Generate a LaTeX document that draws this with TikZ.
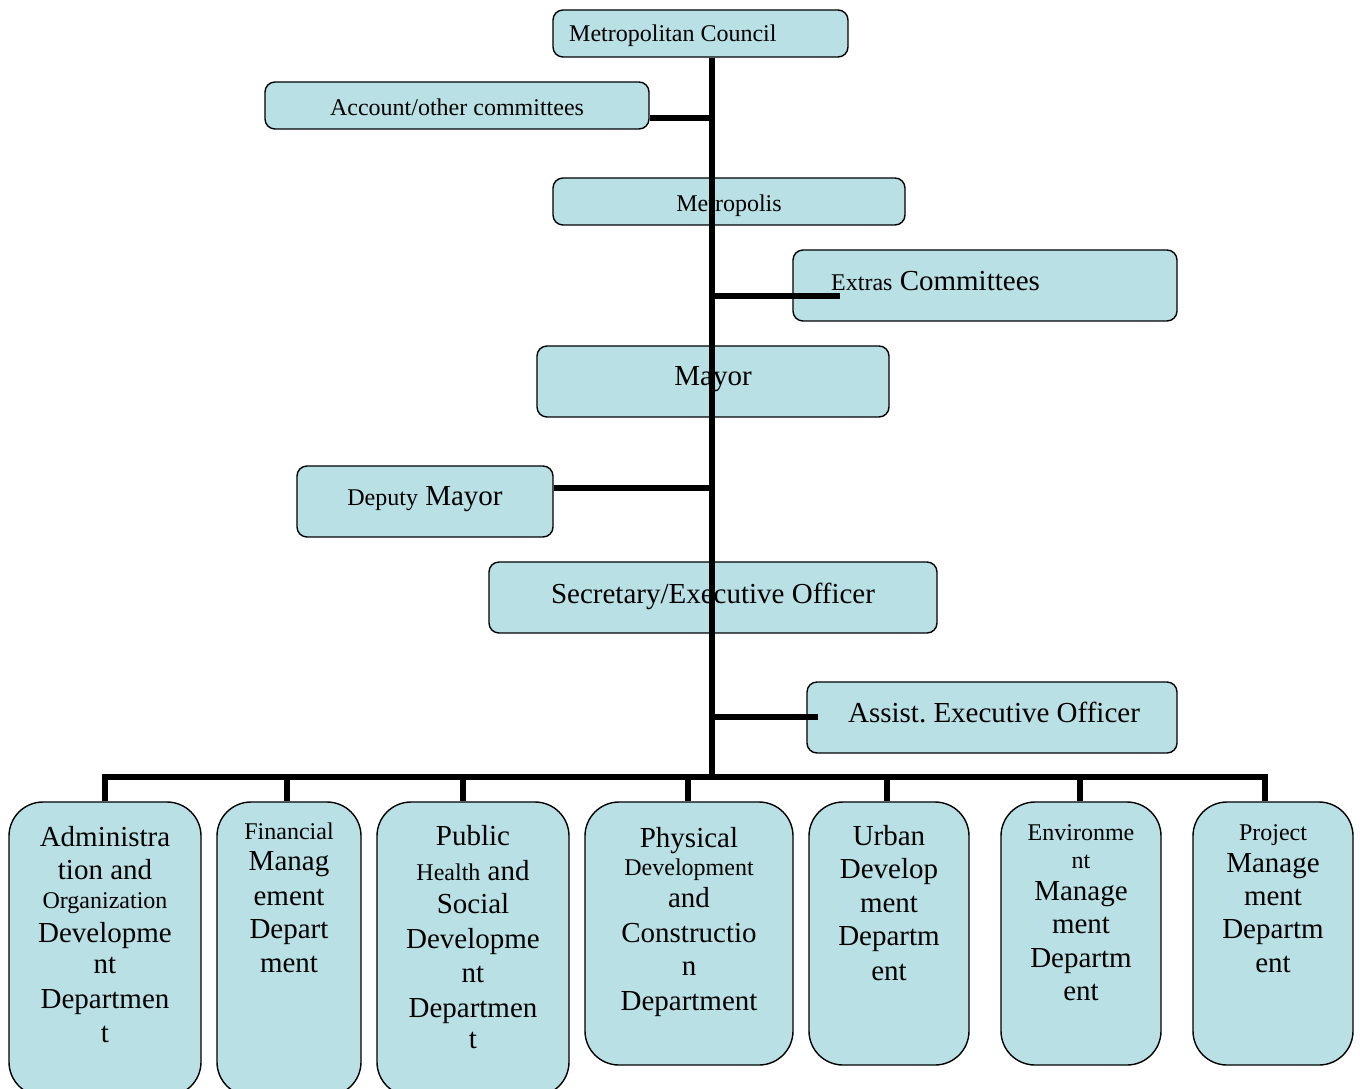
\documentclass[tikz,border=0pt]{standalone}
\usepackage{fontspec}
\setmainfont{Liberation Serif}
\definecolor{boxblue}{RGB}{185,224,228}
\newcommand\smf{\fontsize{24}{28}\selectfont}
\newcommand\lgf{\fontsize{29}{34}\selectfont}
\begin{document}
\frenchspacing
\begin{tikzpicture}[x=1pt,y=-1pt,
  box/.style={draw=black, line width=1.4pt, fill=boxblue, rounded corners=10pt, inner sep=0pt},
  dept/.style={box, rounded corners=34pt},
  conn/.style={line width=6.5pt, line cap=butt},
  txt/.style={anchor=base, inner sep=0pt, font=\lgf}]
\useasboundingbox (0,0) rectangle (1360,1088);
\clip (0,0) rectangle (1360,1088);

% upper boxes
\node[box, minimum width=295, minimum height=47] (council) at (700.5,33.5) {};
\node[box, minimum width=384, minimum height=47] (acct) at (457,105.5) {};
\node[box, minimum width=352, minimum height=47] (metro) at (729,201.5) {};
\node[box, minimum width=384, minimum height=71] (extras) at (985,285.5) {};
\node[box, minimum width=352, minimum height=71] (mayor) at (713,381.5) {};
\node[box, minimum width=256, minimum height=71] (deputy) at (425,501.5) {};
\node[box, minimum width=448, minimum height=71] (secr) at (713,597.5) {};
\node[box, minimum width=370, minimum height=71] (assist) at (992,717.5) {};

% department boxes
\node[dept, minimum width=192, minimum height=294] (admin) at (105,949) {};
\node[dept, minimum width=144, minimum height=294] (fin) at (289,949) {};
\node[dept, minimum width=192, minimum height=294] (pub) at (473,949) {};
\node[dept, minimum width=208, minimum height=263] (phys) at (689,933.5) {};
\node[dept, minimum width=160, minimum height=263] (urban) at (889,933.5) {};
\node[dept, minimum width=160, minimum height=263] (env) at (1081,933.5) {};
\node[dept, minimum width=160, minimum height=263] (proj) at (1273,933.5) {};

% upper texts
\node[txt, anchor=base west, font=\smf] (tcouncil) at (569,41) {Metropolitan Council};
\node[txt, font=\smf] (tacct) at (457,115) {Account/other committees};
\node[txt, font=\smf] (tmetro) at (729,211) {Metropolis};
\node[txt, anchor=base west] (textras) at (831,290) {{\smf Extras} Committees};
\node[txt] (tmayor) at (713,385) {Mayor};
\node[txt] (tdeputy) at (425,505) {{\smf Deputy} Mayor};
\node[txt] (tsecr) at (713,603) {Secretary/Executive Officer};
\node[txt] (tassist) at (994,722) {Assist. Executive Officer};

% department texts
\foreach \tx/\yy/\ff [count=\i] in {Administra/846/\lgf, tion and/879/\lgf, Organization/908/\smf, Developme/942/\lgf, nt/973/\lgf, Departmen/1008/\lgf, t/1042/\lgf}
  \node[txt] (tadm\i) at (105,\yy) {\ff\tx};
\foreach \tx/\yy/\ff [count=\i] in {Financial/839/\smf, Manag/870/\lgf, ement/905/\lgf, Depart/938/\lgf, ment/972/\lgf}
  \node[txt] (tfin\i) at (289,\yy) {\ff\tx};
\foreach \tx/\yy/\ff [count=\i] in {Public/845/\lgf, {{\smf Health} and}/880/\lgf, Social/913/\lgf, Developme/948/\lgf, nt/982/\lgf, Departmen/1017/\lgf, t/1048/\lgf}
  \node[txt] (tpub\i) at (473,\yy) {\ff\tx};
\foreach \tx/\yy/\ff [count=\i] in {Physical/847/\lgf, Development/875/\smf, and/907/\lgf, Constructio/942/\lgf, n/975/\lgf, Department/1010/\lgf}
  \node[txt] (tphys\i) at (689,\yy) {\ff\tx};
\foreach \tx/\yy/\ff [count=\i] in {Urban/845/\lgf, Develop/878/\lgf, ment/912/\lgf, Departm/945/\lgf, ent/980/\lgf}
  \node[txt] (turb\i) at (889,\yy) {\ff\tx};
\foreach \tx/\yy/\ff [count=\i] in {Environme/840/\smf, nt/868/\smf, Manage/900/\lgf, ment/933/\lgf, Departm/967/\lgf, ent/1000/\lgf}
  \node[txt] (tenv\i) at (1081,\yy) {\ff\tx};
\foreach \tx/\yy/\ff [count=\i] in {Project/840/\smf, Manage/872/\lgf, ment/905/\lgf, Departm/938/\lgf, ent/972/\lgf}
  \node[txt] (tproj\i) at (1273,\yy) {\ff\tx};

% connectors
\coordinate (spT) at (712,57);
\coordinate (spB) at (712,780);
\coordinate (bus) at (0,777);
\coordinate (acJ) at (715,118);
\coordinate (exE) at (840,296);
\coordinate (dpJ) at (712,488);
\coordinate (asE) at (818,717);

\draw[conn] (council.south -| spT) -- (spB);
\draw[conn] (acJ -| acct.east) -- (acJ);
\draw[conn] (exE -| spT) -- (exE);
\draw[conn] (dpJ -| deputy.east) -- (dpJ);
\draw[conn] (asE -| spT) -- (asE);

\path (proj.north) ++(-8,0) coordinate (projT);
\draw[conn, line join=miter] (admin.north) -- (admin.north |- bus) -- (projT |- bus) -- (projT);
\foreach \b/\s in {fin/-2, pub/-10, phys/-1, urban/-2, env/-1} {
  \path (\b.north) ++(\s,0) coordinate (\b T);
  \draw[conn] (\b T) -- (\b T |- bus);
}
\end{tikzpicture}
\end{document}
